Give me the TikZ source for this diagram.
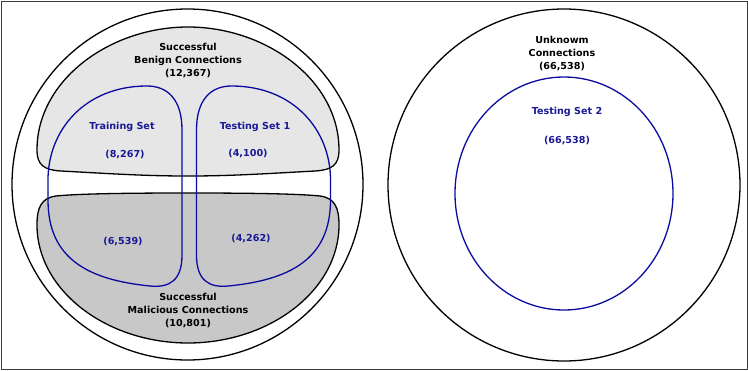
\documentclass[tikz,border=0pt]{standalone}
\usepackage{fontspec}
\setmainfont{DejaVu Sans}
\definecolor{setblue}{RGB}{10,10,160}
\definecolor{txtblue}{RGB}{25,25,150}
\definecolor{benigngray}{RGB}{230,230,230}
\definecolor{malgray}{RGB}{200,200,200}
\definecolor{framegray}{RGB}{60,60,60}
\tikzset{
  outline/.style={draw=black, line width=1.3pt},
  setline/.style={draw=setblue, line width=1.3pt},
  lbl/.style={font=\fontsize{9.6}{13}\selectfont\bfseries, align=center, inner sep=0pt},
  blbl/.style={lbl, text=txtblue},
}
\begin{document}
\begin{tikzpicture}[x=1pt,y=-1pt]
\useasboundingbox (0,0) rectangle (748,370);
\draw[framegray, line width=1pt] (1,1) rectangle (747,369);
% left outer circle
\draw[outline] (187.5,184.5) circle [radius=175.5pt];
% benign region
\filldraw[fill=benigngray, outline]
  (37,150) .. controls (37,80) and (110,27) .. (188,27)
  .. controls (266,27) and (339,80) .. (339,150)
  .. controls (339,165) and (332,170) .. (315,171)
  .. controls (260,174) and (230,176) .. (188,176)
  .. controls (146,176) and (116,174) .. (61,171)
  .. controls (44,170) and (37,165) .. (37,150) -- cycle;
% malicious region
\filldraw[fill=malgray, outline]
  (188,193) .. controls (260,193) and (300,194) .. (320,196)
  .. controls (335,198) and (339,208) .. (339,225)
  .. controls (339,290) and (270,343) .. (188,343)
  .. controls (106,343) and (37,290) .. (37,225)
  .. controls (37,208) and (41,198) .. (56,196)
  .. controls (76,194) and (116,193) .. (188,193) -- cycle;
% training set
\draw[setline]
  (147,86) .. controls (168,86) and (182,100) .. (182,130)
  -- (182,255) .. controls (182,280) and (170,288) .. (150,286)
  .. controls (90,280) and (48,260) .. (48,200)
  -- (48,180) .. controls (48,130) and (85,86) .. (147,86) -- cycle;
% testing set 1
\draw[setline]
  (231.5,86) .. controls (210.5,86) and (196.5,100) .. (196.5,130)
  -- (196.5,255) .. controls (196.5,280) and (208.5,288) .. (228.5,286)
  .. controls (288.5,280) and (330.5,260) .. (330.5,200)
  -- (330.5,180) .. controls (330.5,130) and (293.5,86) .. (231.5,86) -- cycle;
% right circles
\draw[outline] (564,185) circle [radius=176pt];
\draw[setline] (564,193.5) ellipse [x radius=109pt, y radius=116.5pt];
% labels
\node[lbl] (benign) at (188,61) {Successful\\Benign Connections\\(12,367)};
\node[lbl] (malicious) at (188,311) {Successful\\Malicious Connections\\(10,801)};
\node[blbl] (train) at (122,127) {Training Set};
\node[blbl] (trainb) at (125,155) {(8,267)};
\node[blbl] (trainm) at (123,242) {(6,539)};
\node[blbl] (test1) at (255,127) {Testing Set 1};
\node[blbl] (test1b) at (248,154) {(4,100)};
\node[blbl] (test1m) at (251,239) {(4,262)};
\node[lbl] (unknown) at (562,54) {Unknowm\\Connections\\(66,538)};
\node[blbl] (test2) at (567,112) {Testing Set 2};
\node[blbl] (test2n) at (567,141) {(66,538)};
\end{tikzpicture}
\end{document}
